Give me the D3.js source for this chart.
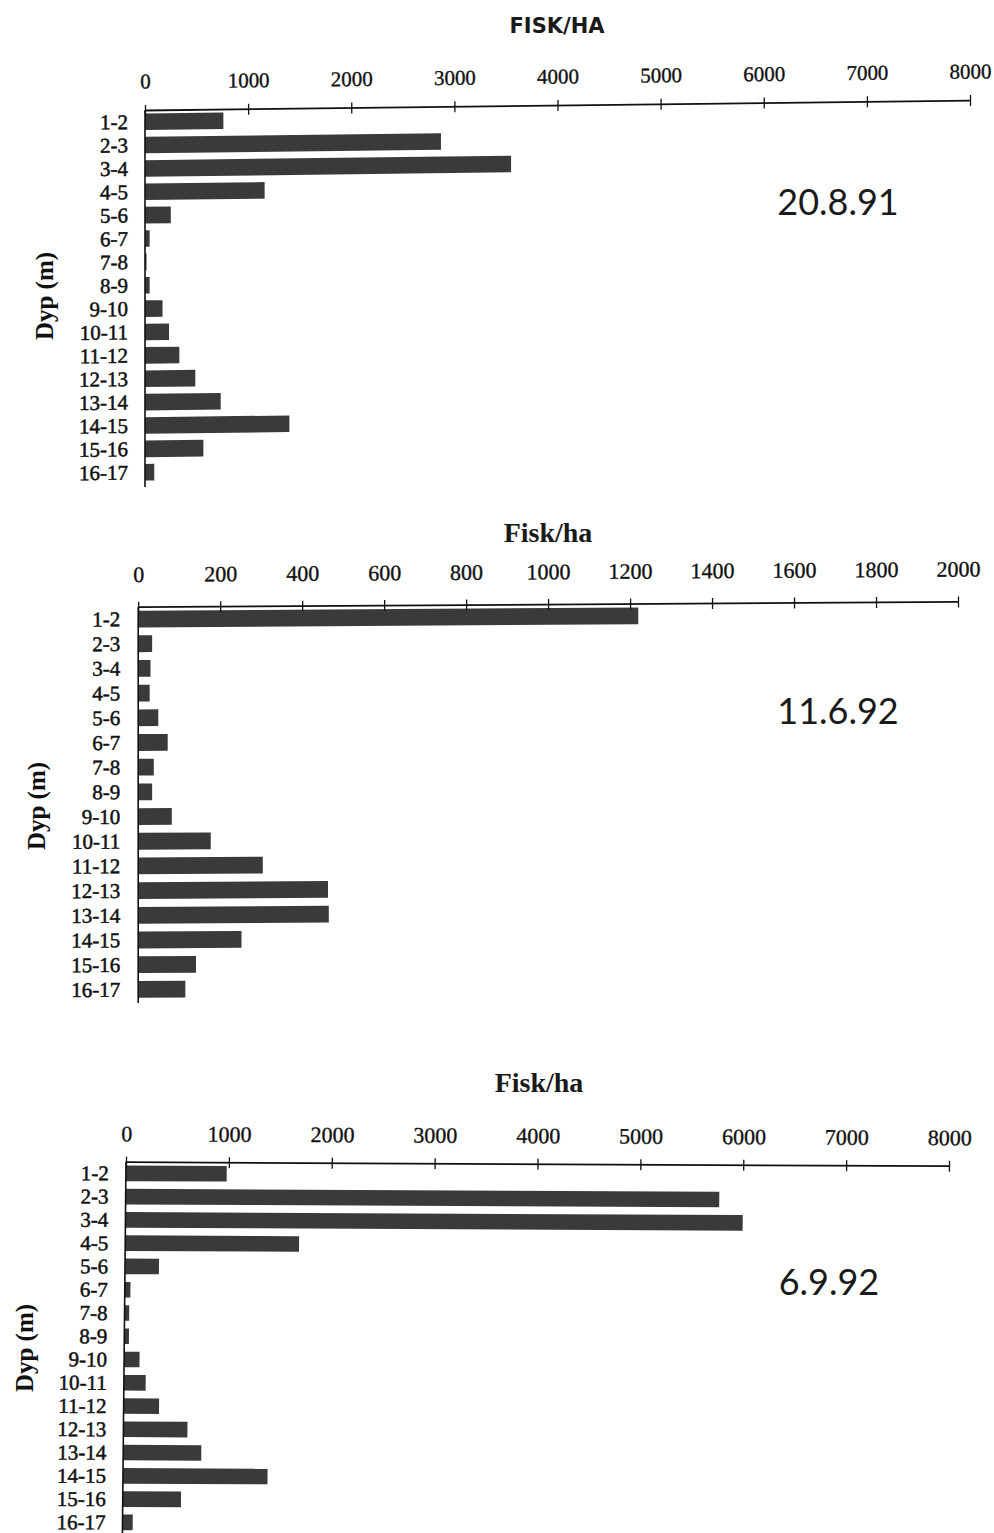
<!DOCTYPE html>
<html>
<head>
<meta charset="utf-8">
<script src="https://cdn.jsdelivr.net/npm/d3@7"></script>
<style>
  html, body { margin: 0; padding: 0; background: #ffffff; }
  svg { display: block; }
</style>
</head>
<body>
<svg id="chart" width="994" height="1533"></svg>
<script>
// Depth intervals (m), top to bottom
const depthBins = ["1-2", "2-3", "3-4", "4-5", "5-6", "6-7", "7-8", "8-9",
  "9-10", "10-11", "11-12", "12-13", "13-14", "14-15", "15-16", "16-17"];

// Fish per hectare in each depth interval, one array per survey date
const fish_20_8_91 = [760, 2870, 3550, 1160, 250, 45, 15, 45, 170, 233, 333, 488, 734, 1400, 566, 90];
const fish_11_6_92 = [1220, 34, 30, 28, 49, 72, 38, 34, 82, 177, 304, 463, 465, 252, 141, 115];
const fish_6_9_92 = [980, 5770, 6000, 1690, 330, 55, 45, 45, 150, 212, 344, 622, 759, 1405, 566, 99];

// Axis tick values
const ticks8000 = [0, 1000, 2000, 3000, 4000, 5000, 6000, 7000, 8000];
const ticks2000 = [0, 200, 400, 600, 800, 1000, 1200, 1400, 1600, 1800, 2000];

const svg = d3.select("#chart");
const BAR = "#3a3a3c";
const INK = "#111";
const SERIF = "'Liberation Serif', 'Times New Roman', serif";

const panels = [
  {
    values: fish_20_8_91, ticks: ticks8000, max: 8000,
    x0: 145, x1: 970, top: 110, step: 23.37, pad: 0.29, axisEnd: 487,
    skewY: -0.69, skewX: 0,
    tickFont: 21, tickBase: -21.5, labelX: -17, labelFont: 21,
    title: "FISK/HA", titleFont: "'DejaVu Sans', Verdana, sans-serif", titleSize: 21,
    titleX: 557, titleY: 33,
    date: "20.8.91", dateX: 838, dateY: 215,
    dypX: 45, dypY: 296
  },
  {
    values: fish_11_6_92, ticks: ticks2000, max: 2000,
    x0: 138.2, x1: 958, top: 606.7, step: 24.69, pad: 0.32, axisEnd: 1003,
    skewY: -0.37, skewX: 0,
    tickFont: 22, tickBase: -24.8, labelX: -18, labelFont: 21,
    title: "Fisk/ha", titleFont: SERIF, titleSize: 28,
    titleX: 548, titleY: 542,
    date: "11.6.92", dateX: 838, dateY: 724,
    dypX: 37, dypY: 806
  },
  {
    values: fish_6_9_92, ticks: ticks8000, max: 8000,
    x0: 126, x1: 949, top: 1161.7, step: 23.27, pad: 0.33, axisEnd: 1533,
    skewY: 0.28, skewX: -0.55,
    tickFont: 22, tickBase: -20.5, labelX: -17, labelFont: 21,
    title: "Fisk/ha", titleFont: SERIF, titleSize: 28,
    titleX: 539, titleY: 1092,
    date: "6.9.92", dateX: 829, dateY: 1295,
    dypX: 25, dypY: 1348
  }
];

panels.forEach(p => {
  const width = p.x1 - p.x0;
  const height = p.step * depthBins.length;

  const x = d3.scaleLinear().domain([0, p.max]).range([0, width]);
  const y = d3.scaleBand().domain(depthBins).range([0, height])
    .paddingInner(p.pad).paddingOuter(p.pad / 2);

  // Panel body, sheared slightly like the printed page
  const g = svg.append("g")
    .attr("transform", `translate(${p.x0},${p.top}) skewY(${p.skewY}) skewX(${p.skewX})`);

  // Bars
  g.append("g").selectAll("rect")
    .data(p.values)
    .join("rect")
    .attr("x", 0)
    .attr("y", (d, i) => y(depthBins[i]))
    .attr("width", d => x(d))
    .attr("height", y.bandwidth())
    .attr("fill", BAR);

  // Top value axis
  const axis = d3.axisTop(x).tickValues(p.ticks).tickSizeInner(5).tickSizeOuter(0)
    .tickFormat(d3.format("d"));
  const ax = g.append("g").call(axis);
  ax.select(".domain").attr("stroke", INK).attr("stroke-width", 1.8);
  ax.selectAll(".tick line").attr("stroke", INK).attr("stroke-width", 1.3)
    .attr("y1", 6).attr("y2", -5);
  ax.selectAll(".tick text")
    .attr("y", p.tickBase).attr("dy", null)
    .attr("fill", INK)
    .attr("stroke", INK).attr("stroke-width", 0.35)
    .style("font-family", SERIF)
    .style("font-size", p.tickFont + "px");

  // Vertical category axis line (no ticks)
  g.append("line")
    .attr("x1", 0).attr("x2", 0)
    .attr("y1", 0).attr("y2", p.axisEnd - p.top)
    .attr("stroke", INK).attr("stroke-width", 1.6);

  // Depth labels
  g.append("g").selectAll("text")
    .data(depthBins)
    .join("text")
    .attr("x", p.labelX)
    .attr("y", d => y(d) + y.bandwidth() / 2 + 0.34 * p.labelFont)
    .attr("text-anchor", "end")
    .attr("fill", INK)
    .attr("stroke", INK).attr("stroke-width", 0.5)
    .style("font-family", SERIF)
    .style("font-size", p.labelFont + "px")
    .text(d => d);

  // Title
  svg.append("text")
    .attr("x", p.titleX).attr("y", p.titleY)
    .attr("text-anchor", "middle")
    .attr("fill", "#1a1a1a")
    .style("font-family", p.titleFont)
    .style("font-weight", "bold")
    .style("font-size", p.titleSize + "px")
    .text(p.title);

  // Survey date
  svg.append("text")
    .attr("x", p.dateX).attr("y", p.dateY)
    .attr("text-anchor", "middle")
    .attr("fill", "#1a1a1a")
    .style("font-family", "Lato, 'Open Sans', sans-serif")
    .style("font-weight", 400)
    .style("font-size", "36px")
    .text(p.date);

  // Y axis title
  svg.append("text")
    .attr("transform", `translate(${p.dypX},${p.dypY}) rotate(-90)`)
    .attr("text-anchor", "middle")
    .attr("dy", "0.33em")
    .attr("fill", INK)
    .style("font-family", SERIF)
    .style("font-weight", "bold")
    .style("font-size", "25px")
    .text("Dyp (m)");
});
</script>
</body>
</html>
